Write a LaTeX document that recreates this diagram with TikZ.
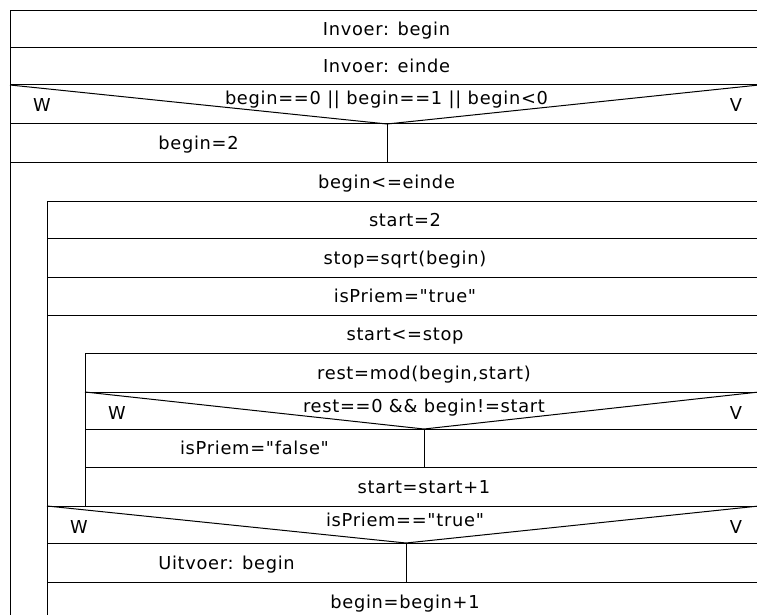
\documentclass[tikz,border=0pt]{standalone}
\usepackage{fontspec}
\newfontfamily\nsfont[LetterSpace=4, Ligatures=TeXOff]{DejaVu Sans}
\usetikzlibrary{positioning}
\tikzset{
  nsline/.style={draw=black, line width=1pt},
  nstext/.style={font=\nsfont\fontsize{17.8}{20}\selectfont, anchor=base, inner sep=0pt},
}
\begin{document}
\begin{tikzpicture}[x=1pt, y=-1pt]
  \useasboundingbox (0,0) rectangle (757,615);
  \clip (0,0) rectangle (757,615);
  \fill[white] (0,0) rectangle (757,615);
  % herhalingen (kop en linkerbalk)
  \draw[nsline] (759,162) -- (10,162) -- (10,621);
  \draw[nsline] (759,315) -- (47,315) -- (47,506);
  \node[nstext] (lusbegin) at ({(10+763)/2},{(162+201)/2+6.5}) {begin<=einde};
  \node[nstext] (lusstart) at ({(47+763)/2},{(315+353)/2+6.5}) {start<=stop};
  % gewone opdrachten
  \foreach \x/\ya/\yb/\nm/\lab in {
    10/11/48/invbegin/{Invoer: begin},
    10/48/85/inveinde/{Invoer: einde},
    47/201/238/start/{start=2},
    47/238/277/stop/{stop=sqrt(begin)},
    47/277/315/priemtrue/{isPriem="true"},
    85/353/392/rest/{rest=mod(begin,start)},
    85/467/506/volgende/{start=start+1},
    47/582/621/ophogen/{begin=begin+1}} {
    \draw[nsline] (\x,\ya) rectangle (759,\yb);
    \node[nstext] (\nm) at ({(\x+763)/2},{(\ya+\yb)/2+6.5}) {\lab};
  }
  % keuzes
  \foreach \x/\ya/\yb/\sx/\nm/\cond in {
    10/85/124/387/vraag1/{begin==0 || begin==1 || begin<0},
    85/392/429/424/vraag2/{rest==0 \&\& begin!=start},
    47/506/543/406/vraag3/{isPriem=="true"}} {
    \draw[nsline] (\x,\ya) rectangle (759,\yb);
    \draw[nsline] (\x,\ya) -- (\sx,\yb) -- (759,\ya);
    \node[nstext] (\nm) at ({(\x+763)/2},\ya+20) {\cond};
    \node[nstext] (\nm-w) at (\x+32,\ya+27) {W};
    \node[nstext] (\nm-v) at (736,\ya+27) {V};
  }
  % takken
  \foreach \x/\ya/\yb/\sx/\nm/\lab in {
    10/124/162/387/tak1/{begin=2},
    85/429/467/424/tak2/{isPriem="false"},
    47/543/582/406/tak3/{Uitvoer: begin}} {
    \draw[nsline] (\x,\ya) rectangle (759,\yb);
    \draw[nsline] (\sx,\ya) -- (\sx,\yb);
    \node[nstext] (\nm) at ({(\x+\sx)/2},{(\ya+\yb)/2+6.5}) {\lab};
  }
\end{tikzpicture}
\end{document}
